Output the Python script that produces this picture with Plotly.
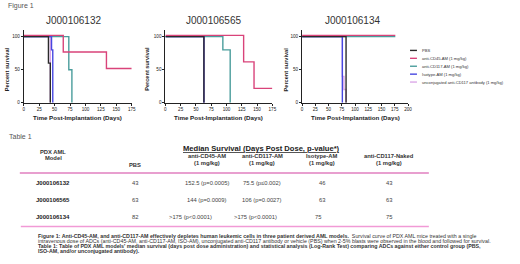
import plotly.graph_objects as go

W, H = 520, 264
def px(x): return x / W
def py(y): return 1 - y / H

FONT = "Arial, Liberation Sans, sans-serif"

# ---------------- data ----------------
series_names = ["PBS", "anti-CD45-AM (1 mg/kg)", "anti-CD117-AM (1 mg/kg)",
                "Isotype-AM (1 mg/kg)", "unconjugated anti-CD117 antibody (1 mg/kg)"]
series_colors = ["#2b2b2b", "#d9437a", "#4a9d9c", "#4747e0", "#dba8e8"]

plot_titles = ["J000106132", "J000106565", "J000106134"]
x_max = [175, 175, 200]

# J000106132
t1_pbs = [0, 40, 43];          s1_pbs = [100, 60, 0]
t1_cd45 = [0, 64, 134, 175];   s1_cd45 = [100, 75, 50, 50]
t1_cd117 = [0, 73, 78];        s1_cd117 = [100, 50, 0]
t1_iso = [0, 45, 47];          s1_iso = [100, 80, 0]
t1_unc = [0, 43];              s1_unc = [100, 0]
# J000106565
t2_pbs = [0, 63];              s2_pbs = [100, 0]
t2_cd45 = [0, 128, 145, 175];  s2_cd45 = [100, 60, 20, 20]
t2_cd117 = [0, 94, 106];       s2_cd117 = [100, 80, 0]
t2_iso = [0, 63];              s2_iso = [100, 0]
t2_unc = [0, 63];              s2_unc = [100, 0]
# J000106134
t3_pbs = [0, 83];              s3_pbs = [100, 0]
t3_cd45 = [0, 176];            s3_cd45 = [100, 100]
t3_cd117 = [0, 176];           s3_cd117 = [100, 100]
t3_iso = [0, 76];              s3_iso = [100, 0]
t3_unc = [0, 76, 79, 83];      s3_unc = [100, 40, 20, 0]

# table
table_models = ["J000106132", "J000106565", "J000106134"]
col_pbs = ["43", "63", "82"]
col_cd45 = ["152.5 (p=0.0005)", "144 (p=0.0009)", ">175 (p<0.0001)"]
col_cd117 = ["75.5 (p\u22640.002)", "106 (p=0.0027)", ">175 (p<0.0001)"]
col_iso = ["46", "63", "75"]
col_naked = ["43", "63", "75"]
col_headers_1 = ["PBS", "anti-CD45-AM", "anti-CD117-AM", "Isotype-AM", "anti-CD117-Naked"]
col_headers_2 = ["", "(1 mg/kg)", "(1 mg/kg)", "(1 mg/kg)", "(1 mg/kg)"]

caption_lines = [
    "<b>Figure 1: Anti-CD45-AM, and anti-CD117-AM effectively depletes human leukemic cells in three patient derived AML models.</b>  Survival curve of PDX AML mice treated with a single",
    "intravenous dose of ADCs (anti-CD45-AM, anti-CD117-AM, ISO-AM), unconjugated anti-CD117 antibody or vehicle (PBS) when 2-5% blasts were observed in the blood and followed for survival.",
    "<b>Table 1: Table of PDX AML models' median survival (days post dose administration) and statistical analysis (Log-Rank Test) comparing ADCs against either control group (PBS,</b>",
    "<b>ISO-AM, and/or unconjugated antibody).</b>",
]

plots_data = [
    [(t1_pbs, s1_pbs), (t1_cd45, s1_cd45), (t1_cd117, s1_cd117), (t1_iso, s1_iso), (t1_unc, s1_unc)],
    [(t2_pbs, s2_pbs), (t2_cd45, s2_cd45), (t2_cd117, s2_cd117), (t2_iso, s2_iso), (t2_unc, s2_unc)],
    [(t3_pbs, s3_pbs), (t3_cd45, s3_cd45), (t3_cd117, s3_cd117), (t3_iso, s3_iso), (t3_unc, s3_unc)],
]

# ---------------- layout geometry ----------------
plot_x = [(23, 132), (166, 274), (304, 411)]
title_x = [73, 215, 355]
ytitle_x = [6, 148, 288]
y_bot, y_top = 104, 30.3
draw_order = [4, 2, 1, 3, 0]
offset_series = 1      # drawn slightly raised (as in the original graph)
offset_amt = 1.8

fig = go.Figure()
layout = dict(width=W, height=H, margin=dict(l=0, r=0, t=0, b=0),
              paper_bgcolor="white", plot_bgcolor="white", showlegend=False,
              font=dict(family=FONT, color="#222"))
ann = []
shapes = []

def add_text(x, y, text, size, color="#222", anchor="center", angle=0):
    ann.append(dict(x=px(x), y=py(y), xref="paper", yref="paper", text=text, showarrow=False,
                    xanchor=anchor, yanchor="middle", textangle=angle,
                    font=dict(size=size, color=color, family=FONT)))

for i in range(3):
    n = "" if i == 0 else str(i + 1)
    ov = str(i + 4)
    for k in draw_order:
        t, s = plots_data[i][k]
        ya = ("y" + ov) if k == offset_series else ("y" + n)
        fig.add_trace(go.Scatter(x=t, y=s, mode="lines", line_shape="hv",
                                 line=dict(color=series_colors[k], width=1.4),
                                 name=series_names[k], xaxis="x" + n, yaxis=ya,
                                 cliponaxis=False, hoverinfo="skip"))
    x0, x1 = plot_x[i]
    layout["xaxis" + n] = dict(domain=[px(x0), px(x1)], range=[0, x_max[i]], anchor="y" + n,
                               tickvals=list(range(0, x_max[i] + 1, 25)), showline=True,
                               linecolor="#222", linewidth=1, ticks="outside", ticklen=2,
                               tickwidth=0.8, tickcolor="#222", showgrid=False, zeroline=False,
                               tickfont=dict(size=4.6, family=FONT, color="#222"))
    layout["yaxis" + n] = dict(domain=[py(y_bot), py(y_top)], range=[0, 110], anchor="x" + n,
                               tickvals=[0, 50, 100], showline=True, linecolor="#222",
                               linewidth=1, ticks="outside", ticklen=2, tickwidth=0.8,
                               tickcolor="#222", showgrid=False, zeroline=False,
                               tickfont=dict(size=4.6, family=FONT, color="#222"))
    layout["yaxis" + ov] = dict(overlaying="y" + n, anchor="x" + n,
                                range=[-offset_amt, 110 - offset_amt], visible=False,
                                showgrid=False, zeroline=False)
    add_text(title_x[i], 21, plot_titles[i], 10, "#333")
    add_text((x0 + x1) / 2, 119, "<b>Time Post-Implantation (Days)</b>", 6.2)
    add_text(ytitle_x[i], 70, "<b>Percent survival</b>", 5.6, angle=-90)

# legend (manual)
leg_y = [51, 59, 67, 75, 83]
for k in range(5):
    shapes.append(dict(type="line", xref="paper", yref="paper", x0=px(413), x1=px(420),
                       y0=py(leg_y[k]), y1=py(leg_y[k]), line=dict(color=series_colors[k], width=1.4)))
    add_text(423, leg_y[k], series_names[k], 4.1, "#333", anchor="left")

# labels
add_text(5, 6, "Figure 1", 7, "#555", anchor="left")
add_text(6, 138, "Table 1", 7, "#555", anchor="left")

# table
add_text(263, 150, "<b><u>Median Survival (Days Post Dose, p-value*)</u></b>", 7.6)
add_text(53, 154, "<b>PDX AML</b>", 5.8, "#333")
add_text(53, 160, "<b>Model</b>", 5.8, "#333")
col_x = [135, 208, 264, 324, 392]
for c in range(5):
    if col_headers_2[c]:
        add_text(col_x[c], 158, "<b>" + col_headers_1[c] + "</b>", 5.8, "#333")
        add_text(col_x[c], 164.5, "<b>" + col_headers_2[c] + "</b>", 5.8, "#333")
    else:
        add_text(col_x[c], 167, "<b>" + col_headers_1[c] + "</b>", 5.8, "#333")
row_y = [185, 202, 219]
row_col_x = [[135, 208, 264, 324, 392], [135, 208, 264, 324, 392], [135, 191, 257, 320, 392]]
cols = [col_pbs, col_cd45, col_cd117, col_iso, col_naked]
for r in range(3):
    add_text(53, row_y[r], "<b>" + table_models[r] + "</b>", 6)
    for c in range(5):
        add_text(row_col_x[r][c], row_y[r], cols[c][r], 5.8, "#444")
shapes.append(dict(type="line", xref="paper", yref="paper", x0=px(19), x1=px(432),
                   y0=py(175), y1=py(175), line=dict(color="#e07fbf", width=1.5)))
shapes.append(dict(type="line", xref="paper", yref="paper", x0=px(20), x1=px(432),
                   y0=py(229), y1=py(229), line=dict(color="#f19ad6", width=1.5)))

# caption
cap_y = [238.5, 243.5, 248.5, 253.5]
for j, line in enumerate(caption_lines):
    add_text(35, cap_y[j], line, 5.3, "#333", anchor="left")

layout["annotations"] = ann
layout["shapes"] = shapes
fig.update_layout(**layout)
fig.write_html("out.html", config={"displayModeBar": False},
               post_script="document.body.style.margin='0';document.body.style.overflow='hidden';")
